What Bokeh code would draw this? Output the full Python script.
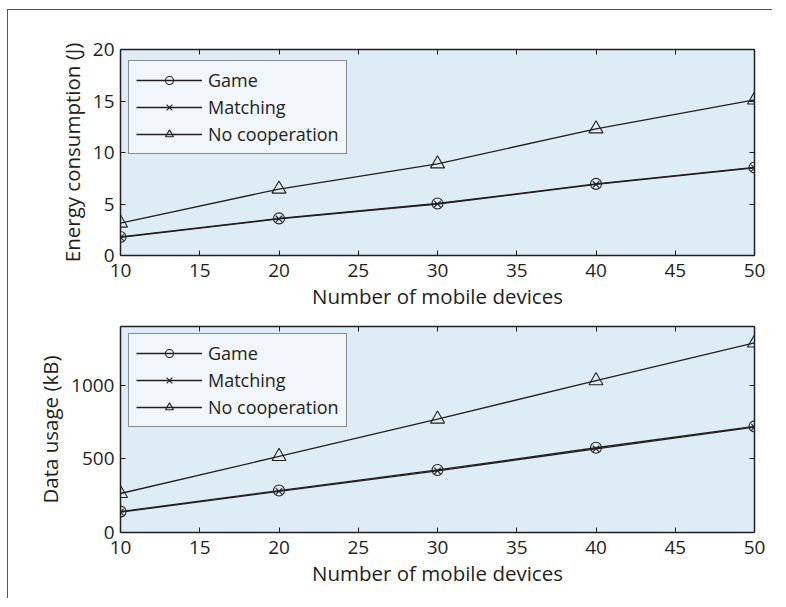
from bokeh.plotting import figure
from bokeh.models import (LinearAxis, Range1d, Legend, LegendItem, FixedTicker,
                          CustomJSTickFormatter)
from bokeh.layouts import column
from bokeh.embed import file_html
from bokeh.resources import INLINE

# ---- data ----
devices = [10, 20, 30, 40, 50]
energy_game = [1.8, 3.6, 5.05, 6.95, 8.55]
energy_matching = [1.75, 3.55, 5.0, 6.9, 8.5]
energy_nocoop = [3.15, 6.45, 8.9, 12.3, 15.1]
data_game = [142, 285, 425, 576, 721]
data_matching = [138, 280, 419, 569, 716]
data_nocoop = [265, 517, 771, 1032, 1288]

series_names = ["Game", "Matching", "No cooperation"]
x_ticks = [10, 15, 20, 25, 30, 35, 40, 45, 50]
energy_ticks = [0, 5, 10, 15, 20]
data_ticks = [0, 500, 1000]

INK = "#231f20"
BG = "#deedf5"
LEG_BG = "#f0f6fa"
FONT = "Open Sans"


def style_axis(ax, ticks, show_labels=True):
    ax.ticker = FixedTicker(ticks=ticks)
    ax.major_tick_in = 5
    ax.major_tick_out = 0
    ax.minor_tick_line_color = None
    ax.axis_line_color = INK
    ax.axis_line_width = 1.5
    ax.major_tick_line_color = INK
    ax.major_tick_line_width = 1
    ax.major_label_text_font = FONT
    ax.major_label_text_font_size = "19px"
    ax.major_label_text_color = INK
    ax.axis_label_text_font = FONT
    ax.axis_label_text_font_size = "20.5px"
    ax.axis_label_text_font_style = "normal"
    ax.axis_label_text_color = INK
    if not show_labels:
        ax.formatter = CustomJSTickFormatter(code="return ''")
        ax.major_label_standoff = 0


def make_panel(ylabel, ys, ymax, yticks, height, mbt, mbb, legend_y):
    p = figure(width=764, height=height, x_range=Range1d(10, 50),
               y_range=Range1d(0, ymax), output_backend="svg",
               toolbar_location=None, min_border_left=112, min_border_right=18,
               min_border_top=mbt, min_border_bottom=mbb,
               background_fill_color=BG, border_fill_color="white",
               outline_line_color=None)
    p.xgrid.visible = False
    p.ygrid.visible = False

    bx = p.xaxis[0]
    ly = p.yaxis[0]
    style_axis(bx, x_ticks)
    style_axis(ly, yticks)
    bx.axis_label = "Number of mobile devices"
    bx.major_label_standoff = 8
    bx.axis_label_standoff = 2
    ly.axis_label = ylabel
    ly.major_label_standoff = 6
    ly.axis_label_standoff = 4

    top = LinearAxis()
    style_axis(top, x_ticks, show_labels=False)
    p.add_layout(top, "above")
    right = LinearAxis()
    style_axis(right, yticks, show_labels=False)
    p.add_layout(right, "right")

    markers = [("circle", 11), ("x", 9), ("triangle", 14)]
    items = []
    for name, y, (mk, sz) in zip(series_names, ys, markers):
        lr = p.line(devices, y, line_color=INK, line_width=1.3)
        sr = p.scatter(devices, y, marker=mk, size=sz, fill_color=None,
                       line_color=INK, line_width=1.1)
        items.append(LegendItem(label=name, renderers=[lr, sr]))

    leg = Legend(items=items, location=(8, legend_y))
    leg.background_fill_color = LEG_BG
    leg.background_fill_alpha = 1
    leg.border_line_color = INK
    leg.border_line_width = 1.5
    leg.label_text_font = FONT
    leg.label_text_font_size = "18px"
    leg.label_text_color = INK
    leg.glyph_width = 66
    leg.glyph_height = 20
    leg.label_height = 20
    leg.spacing = 3
    leg.padding = 7
    leg.label_standoff = 6
    leg.margin = 0
    p.add_layout(leg)
    return p


p1 = make_panel("Energy consumption (J)",
                [energy_game, energy_matching, energy_nocoop],
                20, energy_ticks, height=39 + 206 + 58, mbt=39, mbb=58,
                legend_y=101)
p2 = make_panel("Data usage (kB)",
                [data_game, data_matching, data_nocoop],
                1400, data_ticks, height=13 + 206 + 66, mbt=13, mbb=66,
                legend_y=105)

layout = column(p1, p2, styles={"margin-left": "7px", "margin-top": "9px",
                                "border-top": "1.5px solid #555",
                                "border-left": "1.5px solid #555"})

open("out.html", "w").write(file_html(layout, INLINE))
